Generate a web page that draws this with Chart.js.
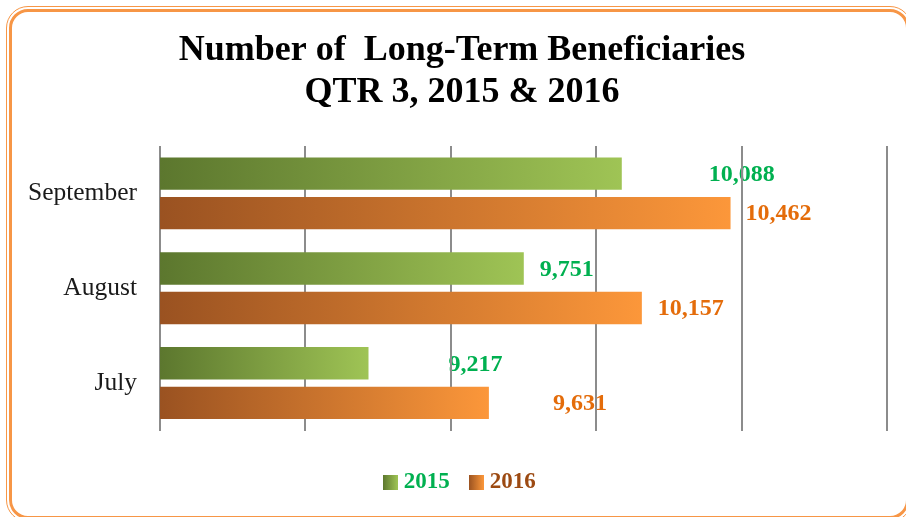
<!DOCTYPE html>
<html>
<head>
<meta charset="utf-8">
<script src="https://cdn.jsdelivr.net/npm/chart.js@4"></script>
<style>
  html, body { margin: 0; padding: 0; background: #fff; width: 906px; height: 517px; overflow: hidden; }
  #wrap { position: relative; width: 906px; height: 517px; overflow: hidden; }
  .frameOuter { position: absolute; left: 6px; top: 6px; width: 906px; height: 516px; border: 1px solid #f79646; border-radius: 22px; box-sizing: border-box; }
  .frameInner { position: absolute; left: 9px; top: 9px; width: 900px; height: 510px; border: 3px solid #f79646; border-radius: 19px; box-sizing: border-box; }
  canvas { position: absolute; left: 0; top: 0; }
</style>
</head>
<body>
<div id="wrap">
  <div class="frameOuter"></div>
  <div class="frameInner"></div>
  <canvas id="c" width="906" height="517"></canvas>
</div>
<script>
// ---- data ----
const months = ['September', 'August', 'July'];
const seriesNames = ['2015', '2016'];
const values2015 = [10088, 9751, 9217];
const values2016 = [10462, 10157, 9631];
const axisMin = 8500;
const axisMax = 11000;
const axisStep = 500;

// ---- styles ----
const titleLines = ['Number of  Long-Term Beneficiaries', 'QTR 3, 2015 & 2016'];
const gradientStops = [['#5c772e', '#9fc455'], ['#9a5221', '#fc973a']];
const labelColors = ['#00b050', '#e46c0a'];
const legendTextColors = ['#00b050', '#9c4a12'];
const labelGaps = [[87, 16, 80], [15, 16, 64]]; // px gap between bar end and value label
const serif = "'Liberation Serif', 'Times New Roman', serif";

function barGradient(ctx, stops) {
  const chart = ctx.chart;
  const area = chart.chartArea;
  const xs = chart.scales && chart.scales.x;
  if (!area || !xs || ctx.raw == null) return stops[1];
  const x0 = xs.getPixelForValue(axisMin);
  const x1 = xs.getPixelForValue(ctx.raw);
  const g = chart.ctx.createLinearGradient(x0, 0, Math.max(x1, x0 + 1), 0);
  g.addColorStop(0, stops[0]);
  g.addColorStop(1, stops[1]);
  return g;
}

function swatch(stops) {
  const c = document.createElement('canvas');
  c.width = 15; c.height = 15;
  const x = c.getContext('2d');
  const g = x.createLinearGradient(0, 0, 15, 0);
  g.addColorStop(0, stops[0]);
  g.addColorStop(1, stops[1]);
  x.fillStyle = g;
  x.fillRect(0, 0, 15, 15);
  return c;
}
const swatches = gradientStops.map(swatch);

const valueLabels = {
  id: 'valueLabels',
  beforeDraw(chart) {
    const ctx = chart.ctx;
    ctx.save();
    ctx.font = 'bold 24px ' + serif;
    ctx.textAlign = 'left';
    ctx.textBaseline = 'middle';
    chart.data.datasets.forEach((ds, di) => {
      const meta = chart.getDatasetMeta(di);
      meta.data.forEach((el, i) => {
        ctx.fillStyle = labelColors[di];
        ctx.fillText(ds.data[i].toLocaleString('en-US'), el.x + labelGaps[di][i], el.y + 1);
      });
    });
    ctx.restore();
  }
};

new Chart(document.getElementById('c'), {
  type: 'bar',
  data: {
    labels: months,
    datasets: [
      { label: seriesNames[0], data: values2015, backgroundColor: (c) => barGradient(c, gradientStops[0]), borderWidth: 0 },
      { label: seriesNames[1], data: values2016, backgroundColor: (c) => barGradient(c, gradientStops[1]), borderWidth: 0 }
    ]
  },
  options: {
    indexAxis: 'y',
    responsive: false,
    animation: false,
    events: [],
    categoryPercentage: 0.834,
    barPercentage: 0.82,
    layout: { padding: { left: 18, right: 0, top: 0, bottom: 13 } },
    scales: {
      x: {
        min: axisMin,
        max: axisMax,
        ticks: { display: false, stepSize: axisStep },
        grid: { color: '#8c8c8c', lineWidth: 2, drawTicks: false },
        border: { display: false },
        afterFit: (s) => { s.height = 16; }
      },
      y: {
        ticks: { color: '#1a1a1a', font: { family: serif, size: 25.5 }, padding: 23 },
        grid: { display: false, drawTicks: false },
        border: { display: false },
        afterFit: (s) => { s.width = 142; }
      },
      yRight: {
        type: 'category',
        position: 'right',
        ticks: { display: false },
        grid: { display: false, drawTicks: false },
        border: { display: false },
        afterFit: (s) => { s.width = 19; }
      }
    },
    plugins: {
      title: {
        display: true,
        text: titleLines,
        color: '#000',
        font: { family: serif, size: 36, weight: 'bold', lineHeight: 1.18 },
        padding: { top: 29, bottom: 32 }
      },
      legend: {
        position: 'bottom',
        labels: {
          usePointStyle: true,
          pointStyleWidth: 4,
          boxWidth: 15,
          boxHeight: 15,
          padding: 24.5,
          font: { family: serif, size: 23, weight: 'bold' },
          generateLabels(chart) {
            return chart.data.datasets.map((ds, i) => ({
              text: ds.label,
              pointStyle: swatches[i],
              fillStyle: gradientStops[i][1],
              strokeStyle: 'rgba(0,0,0,0)',
              lineWidth: 0,
              fontColor: legendTextColors[i],
              datasetIndex: i,
              hidden: false
            }));
          }
        }
      },
      tooltip: { enabled: false }
    }
  },
  plugins: [valueLabels]
});
</script>
</body>
</html>
